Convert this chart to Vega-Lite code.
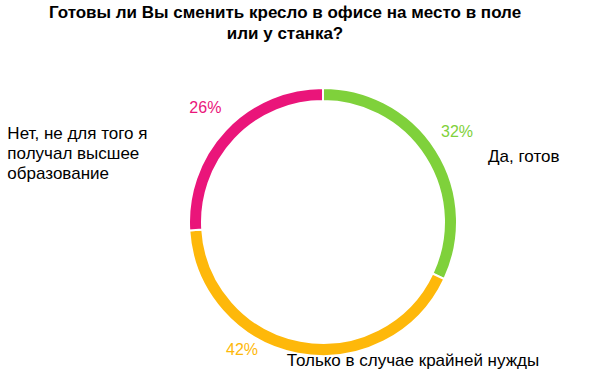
{
  "$schema": "https://vega.github.io/schema/vega-lite/v6.json",
  "autosize": {"type": "none"},
  "width": 540,
  "height": 318,
  "padding": {"left": 53, "top": 63, "right": 0, "bottom": 0},
  "background": "white",
  "config": {"view": {"stroke": null}, "font": "Liberation Sans"},
  "title": {
    "text": ["Готовы ли Вы сменить кресло в офисе на место в поле", "или у станка?"],
    "font": "Liberation Sans",
    "fontSize": 17,
    "fontWeight": "bold",
    "color": "#000000",
    "anchor": "middle",
    "dx": -38,
    "lineHeight": 21,
    "offset": 20
  },
  "data": {
    "values": [
      {"n": 1, "cat": "Да, готов", "label": "Да, готов", "pct": 0.32},
      {"n": 2, "cat": "Только в случае крайней нужды", "label": "Только в случае крайней нужды", "pct": 0.42},
      {"n": 3, "cat": "Нет, не для того я получал высшее образование", "label": ["Нет, не для того я", "получал высшее", "образование"], "pct": 0.26}
    ]
  },
  "encoding": {
    "theta": {"field": "pct", "type": "quantitative", "stack": true},
    "order": {"field": "n", "type": "quantitative"}
  },
  "layer": [
    {
      "mark": {"type": "arc", "outerRadius": 134, "innerRadius": 121, "stroke": "white", "strokeWidth": 2},
      "encoding": {
        "color": {
          "field": "cat",
          "type": "nominal",
          "scale": {
            "domain": ["Да, готов", "Только в случае крайней нужды", "Нет, не для того я получал высшее образование"],
            "range": ["#7FD13B", "#FEB80A", "#EA157A"]
          },
          "legend": null
        }
      }
    },
    {
      "mark": {"type": "text", "radius": 160, "fontSize": 16, "align": "center", "baseline": "middle", "dx": -1, "dy": -4},
      "encoding": {
        "color": {"field": "cat", "type": "nominal", "legend": null},
        "text": {"condition": {"test": "datum.n !== 2", "field": "pct", "format": ".0%"}, "value": ""}
      }
    },
    {
      "mark": {"type": "text", "radius": 160, "fontSize": 16, "align": "center", "baseline": "middle", "dx": -51, "dy": -29},
      "encoding": {
        "color": {"field": "cat", "type": "nominal", "legend": null},
        "text": {"condition": {"test": "datum.n === 2", "field": "pct", "format": ".0%"}, "value": ""}
      }
    },
    {
      "mark": {"type": "text", "radius": 160, "fontSize": 17, "color": "#000000", "align": "left", "baseline": "middle", "dx": 30, "dy": 21},
      "encoding": {
        "detail": {"field": "cat", "type": "nominal"},
        "text": {"condition": {"test": "datum.n === 1", "field": "label"}, "value": ""}
      }
    },
    {
      "mark": {"type": "text", "radius": 160, "fontSize": 17, "color": "#000000", "align": "center", "baseline": "middle", "dx": 120, "dy": -18},
      "encoding": {
        "detail": {"field": "cat", "type": "nominal"},
        "text": {"condition": {"test": "datum.n === 2", "field": "label"}, "value": ""}
      }
    },
    {
      "mark": {"type": "text", "radius": 160, "fontSize": 17, "color": "#000000", "align": "left", "baseline": "alphabetic", "lineHeight": 20, "dx": -199, "dy": 27},
      "encoding": {
        "detail": {"field": "cat", "type": "nominal"},
        "text": {"condition": {"test": "datum.n === 3", "field": "label"}, "value": ""}
      }
    }
  ]
}
